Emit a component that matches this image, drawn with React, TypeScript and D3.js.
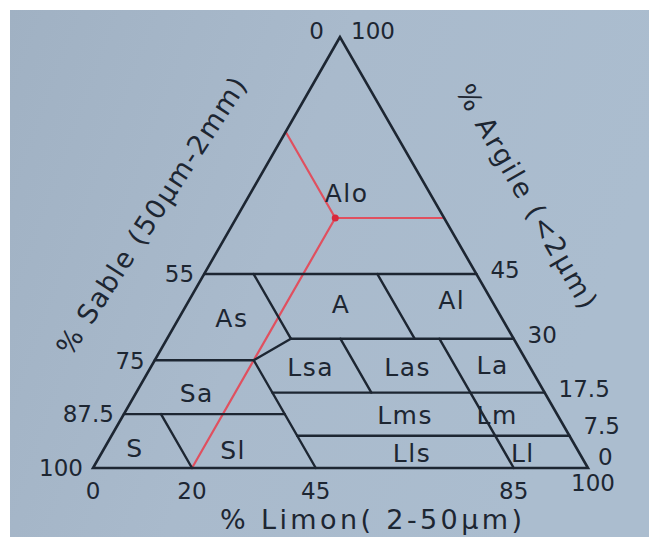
import { scaleLinear } from "d3";

const W = 649;
const H = 537;

// tick labels read on each side of the triangle
const sandTicks = [55, 75, 87.5, 100]; // left side (% Sable)
const clayTicks = [45, 30, 17.5, 7.5, 0]; // right side (% Argile)
const siltTicks = [0, 20, 45, 85, 100]; // bottom (% Limon)

// class limits at constant clay: [clay, sand from, sand to]
const clayLimits = [
  [45, 55, 0],
  [30, 45, 0],
  [25, 75, 55],
  [17.5, 55, 0],
  [12.5, 87.5, 55],
  [7.5, 55, 0],
];
// class limits at constant sand: [sand, clay from, clay to]
const sandLimits = [
  [45, 45, 30],
  [20, 45, 30],
  [35, 30, 17.5],
  [15, 30, 0],
  [55, 25, 0],
  [80, 12.5, 0],
];
// oblique limit between As and Lsa: [clay, sand]
const kinkLimit = [
  [30, 45],
  [25, 55],
];

const classNames = ["Alo", "As", "A", "Al", "Lsa", "Las", "La", "Sa", "Lms", "Lm", "S", "Sl", "Lls", "Ll"];
const classClay = [63.8, 34.8, 38.1, 39, 23.4, 23.4, 23.9, 17.4, 12.3, 12.3, 4.6, 4.2, 3.5, 3.5];
const classSand = [16.8, 54.5, 30.8, 8, 44.3, 24.7, 7.3, 70.3, 30.8, 12.2, 89.2, 69.6, 33.8, 11.4];

// example sample read with the red lines
const sampleClay = 58;
const sampleSilt = 20;

const ink = "#1d2632";
const red = "#e0505f";
const font = "'DejaVu Sans', 'Liberation Sans', sans-serif";

const siltX = scaleLinear().domain([0, 100]).range([93, 588]);
const clayY = scaleLinear().domain([0, 100]).range([468, 37]);
const clayShift = scaleLinear().domain([0, 100]).range([0, 247]);

function pt(clay: number, sand: number): [number, number] {
  const silt = 100 - clay - sand;
  return [siltX(silt) + clayShift(clay), clayY(clay)];
}

function seg(a: [number, number], b: [number, number], key: string, stroke = ink, w = 2.4) {
  return <line key={key} x1={a[0]} y1={a[1]} x2={b[0]} y2={b[1]} stroke={stroke} strokeWidth={w} strokeLinecap="round" />;
}

// right-side labels sit a little above their line, the lower ones more so
function clayLift(c: number) {
  return c === 0 ? 11 : c === 7.5 ? 10 : 4;
}

export default function App() {
  const apex = pt(100, 0);
  const left = pt(0, 100);
  const right = pt(0, 0);
  const sampleSand = 100 - sampleClay - sampleSilt;
  const sp = pt(sampleClay, sampleSand);

  return (
    <svg
      width={W}
      height={H}
      viewBox={`0 0 ${W} ${H}`}
      style={{ position: "absolute", left: 0, top: 0, fontFamily: font }}
    >
      <defs>
        <linearGradient id="paper" x1="0" y1="0" x2="1" y2="0.3">
          <stop offset="0" stopColor="#a0b1c3" />
          <stop offset="0.5" stopColor="#a9bacc" />
          <stop offset="1" stopColor="#abbdcf" />
        </linearGradient>
      </defs>
      <rect width={W} height={H} fill="#ffffff" />
      <rect x={10} y={10} width={W - 10} height={H - 10} fill="url(#paper)" />

      {/* red reading lines: silt down to the base, sand up to the left side, clay across to the right side */}
      <g>
        {seg(sp, pt(0, sampleSand + sampleClay), "r-silt", red, 2.2)}
        {seg(sp, pt(100 - sampleSand, sampleSand), "r-sand", red, 2.2)}
        {seg(sp, pt(sampleClay, 0), "r-clay", red, 2.2)}
        <circle cx={sp[0]} cy={sp[1]} r={3.5} fill="#d8283c" />
      </g>

      {/* class limits */}
      <g>
        {clayLimits.map(([c, s0, s1], i) => seg(pt(c, s0), pt(c, s1), `c${i}`))}
        {sandLimits.map(([s, c0, c1], i) => seg(pt(c0, s), pt(c1, s), `s${i}`))}
        {seg(pt(kinkLimit[0][0], kinkLimit[0][1]), pt(kinkLimit[1][0], kinkLimit[1][1]), "kink")}
        <polygon
          points={[apex, left, right].map((p) => p.join(",")).join(" ")}
          fill="none"
          stroke={ink}
          strokeWidth={2.6}
          strokeLinejoin="miter"
        />
      </g>

      {/* class names */}
      <g fill={ink} fontSize={25} textAnchor="middle" letterSpacing={1.5}>
        {classNames.map((name, i) => {
          const [x, y] = pt(classClay[i], classSand[i]);
          return (
            <text key={name} x={x} y={y} dy="0.36em">
              {name}
            </text>
          );
        })}
      </g>

      {/* ticks */}
      <g fill={ink} fontSize={23}>
        <text x={apex[0] - 16} y={apex[1] - 6} dy="0.36em" textAnchor="end">0</text>
        <text x={apex[0] + 11} y={apex[1] - 6} dy="0.36em">100</text>
        {sandTicks.map((s) => {
          const [x, y] = pt(100 - s, s);
          return (
            <text key={`sl${s}`} x={x - 10} y={y} dy="0.36em" textAnchor="end">
              {s}
            </text>
          );
        })}
        {clayTicks.map((c) => {
          const [x, y] = pt(c, 0);
          return (
            <text key={`cl${c}`} x={x + (c === 0 ? 10 : 14)} y={y - clayLift(c)} dy="0.36em">
              {c}
            </text>
          );
        })}
        {siltTicks.map((s) => {
          const [x, y] = pt(0, 100 - s);
          return (
            <text key={`si${s}`} x={x + (s === 100 ? 5 : 0)} y={y + (s === 100 ? 15 : 23)} dy="0.36em" textAnchor="middle">
              {s}
            </text>
          );
        })}
      </g>

      {/* axis titles */}
      <g fill={ink} fontSize={27}>
        <text
          transform="translate(151,216) rotate(-57)"
          textAnchor="middle"
          dy="0.36em"
          textLength={325}
          lengthAdjust="spacing"
        >
          % Sable (50µm-2mm)
        </text>
        <text
          transform="translate(527,196) rotate(60)"
          textAnchor="middle"
          dy="0.36em"
          textLength={254}
          lengthAdjust="spacing"
        >
          % Argile (&lt;2µm)
        </text>
        <text x={371} y={519} textAnchor="middle" dy="0.36em" textLength={302} lengthAdjust="spacing">
          % Limon( 2-50µm)
        </text>
      </g>
    </svg>
  );
}
